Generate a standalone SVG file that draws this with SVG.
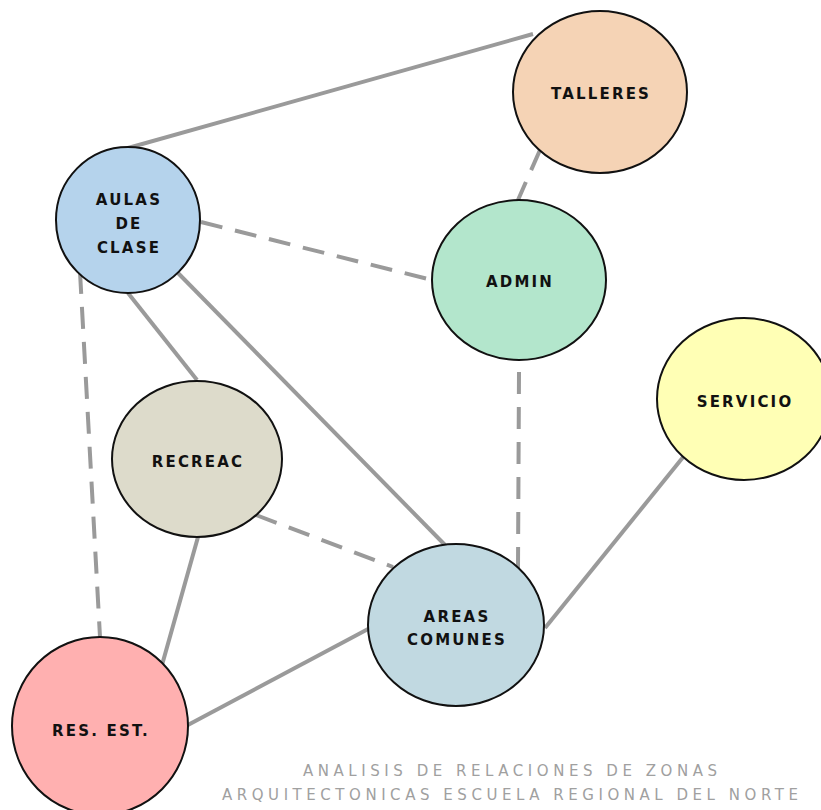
<svg xmlns="http://www.w3.org/2000/svg" width="821" height="810" viewBox="0 0 821 810">
<style>
.edge{stroke:#9a9a9a;stroke-width:4;fill:none;stroke-linecap:butt}
.dash{stroke-dasharray:22 13}
.node ellipse{stroke:#111;stroke-width:2}
.lbl{font-family:"DejaVu Sans",sans-serif;font-weight:bold;font-size:15px;letter-spacing:2.2px;fill:#111;text-anchor:middle}
.foot{font-family:"DejaVu Sans","Liberation Sans",sans-serif;font-size:15px;fill:#a0a0a0;text-anchor:middle}
</style>
<rect width="821" height="810" fill="#fff"/>
<g id="connectors">
<line class="edge" x1="533" y1="34" x2="128" y2="148"/>
<line class="edge dash" x1="540" y1="150" x2="518" y2="200"/>
<line class="edge dash" x1="201" y1="222" x2="432" y2="280"/>
<line class="edge dash" x1="80" y1="272" x2="100" y2="637"/>
<line class="edge" x1="128" y1="293" x2="197" y2="380"/>
<line class="edge" x1="178" y1="273" x2="445" y2="545"/>
<line class="edge dash" x1="519" y1="372" x2="518" y2="568"/>
<line class="edge" x1="684" y1="456" x2="545" y2="628"/>
<line class="edge dash" x1="256" y1="515" x2="393" y2="567"/>
<line class="edge" x1="198" y1="537" x2="162" y2="665"/>
<line class="edge" x1="186" y1="726" x2="370" y2="628"/>
</g>
<g id="talleres" class="node"><ellipse cx="600" cy="92" rx="87" ry="81" fill="#f5d3b5"/><text class="lbl" x="601" y="99">TALLERES</text></g>
<g id="aulas" class="node"><ellipse cx="128" cy="220" rx="72" ry="73" fill="#b5d3ec"/><text class="lbl" x="129" y="205">AULAS</text><text class="lbl" x="129" y="229">DE</text><text class="lbl" x="129" y="253">CLASE</text></g>
<g id="admin" class="node"><ellipse cx="519" cy="280" rx="87" ry="80" fill="#b3e6cc"/><text class="lbl" x="520" y="287">ADMIN</text></g>
<g id="servicio" class="node"><ellipse cx="744" cy="399" rx="87" ry="81" fill="#ffffb5"/><text class="lbl" x="745" y="407">SERVICIO</text></g>
<g id="recreac" class="node"><ellipse cx="197" cy="459" rx="85" ry="78" fill="#dddbcb"/><text class="lbl" x="198" y="467">RECREAC</text></g>
<g id="areas" class="node"><ellipse cx="456" cy="625" rx="88" ry="81" fill="#c1d9e1"/><text class="lbl" x="457" y="622">AREAS</text><text class="lbl" x="457" y="645">COMUNES</text></g>
<g id="resest" class="node"><ellipse cx="100" cy="726" rx="88" ry="89" fill="#ffb0b0"/><text class="lbl" x="101" y="736">RES. EST.</text></g>
<g id="footer">
<text class="foot" x="510" y="776" textLength="414" lengthAdjust="spacing">ANALISIS DE RELACIONES DE ZONAS</text>
<text class="foot" x="510" y="800" textLength="576" lengthAdjust="spacing">ARQUITECTONICAS ESCUELA REGIONAL DEL NORTE</text>
</g>
</svg>
